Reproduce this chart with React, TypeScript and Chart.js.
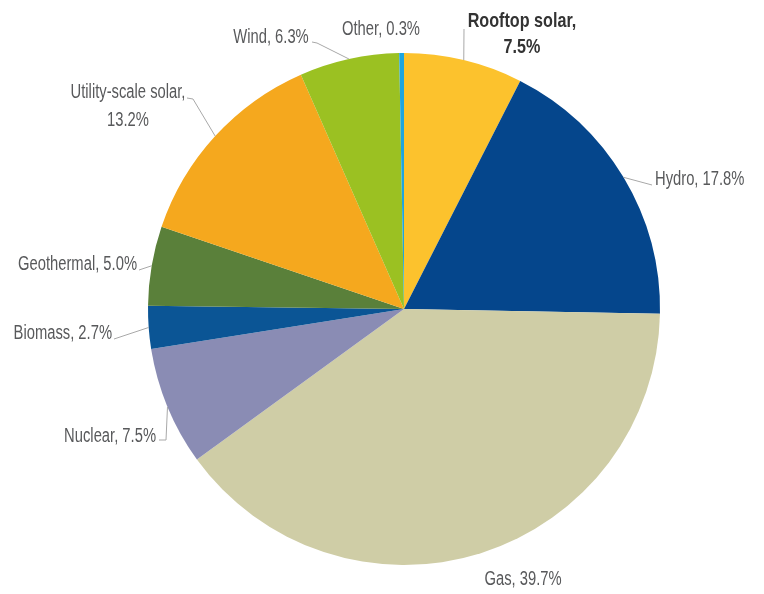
import React, { useEffect, useRef } from "react";
import { Chart, registerables } from "chart.js";

Chart.register(...registerables);

const categories = [
  "Rooftop solar",
  "Hydro",
  "Gas",
  "Nuclear",
  "Biomass",
  "Geothermal",
  "Utility-scale solar",
  "Wind",
  "Other",
];
const shares = [7.5, 17.8, 39.7, 7.5, 2.7, 5.0, 13.2, 6.3, 0.3];
const colors = [
  "#FCC22D",
  "#05468C",
  "#CFCDA6",
  "#8A8CB4",
  "#0B5595",
  "#5A803A",
  "#F5A81E",
  "#9BC122",
  "#1EA5DF",
];

// label layout (text annotations, not marks)
type LabelLayout = {
  lines: string[];
  x: number;
  ys: number[];
  align: CanvasTextAlign;
  bold?: boolean;
  leader: number[][] | null; // points after the arc edge point
};

const labelLayout: LabelLayout[] = [
  { lines: ["Rooftop solar,", "7.5%"], x: 522, ys: [27, 53], align: "center", bold: true, leader: [[464, 29]] },
  { lines: ["Hydro, 17.8%"], x: 655, ys: [185], align: "left", leader: [[652, 185]] },
  { lines: ["Gas, 39.7%"], x: 523, ys: [585], align: "center", leader: null },
  { lines: ["Nuclear, 7.5%"], x: 156, ys: [442], align: "right", leader: [[166, 440], [159, 440]] },
  { lines: ["Biomass, 2.7%"], x: 112, ys: [339], align: "right", leader: [[114, 339]] },
  { lines: ["Geothermal, 5.0%"], x: 137, ys: [270], align: "right", leader: [[139, 270]] },
  { lines: ["Utility-scale solar,", "13.2%"], x: 128, ys: [98, 126], align: "center", leader: [[193, 99], [187, 98]] },
  { lines: ["Wind, 6.3%"], x: 271, ys: [43], align: "center", leader: [[317, 43], [312, 42]] },
  { lines: ["Other, 0.3%"], x: 381, ys: [35], align: "center", leader: null },
];

const FONT = '"Liberation Sans", Arial, sans-serif';

const labelPlugin = {
  id: "pieLabels",
  afterDraw(chart: any) {
    const ctx = chart.ctx as CanvasRenderingContext2D;
    const meta = chart.getDatasetMeta(0);
    meta.data.forEach((arc: any, i: number) => {
      const lay = labelLayout[i];
      if (!lay) return;
      const p = arc.getProps(["x", "y", "startAngle", "endAngle", "outerRadius"], true);
      const mid = (p.startAngle + p.endAngle) / 2;
      const ex = p.x + Math.cos(mid) * p.outerRadius;
      const ey = p.y + Math.sin(mid) * p.outerRadius;
      ctx.save();
      if (lay.leader) {
        ctx.strokeStyle = "#A8A8A8";
        ctx.lineWidth = 1;
        ctx.beginPath();
        ctx.moveTo(ex, ey);
        lay.leader.forEach((pt) => ctx.lineTo(pt[0], pt[1]));
        ctx.stroke();
      }
      ctx.font = lay.bold ? `bold 21px ${FONT}` : `20px ${FONT}`;
      const narrow = lay.bold ? 0.77 : 0.738;
      ctx.fillStyle = lay.bold ? "#333333" : "#58595B";
      ctx.textAlign = lay.align;
      ctx.textBaseline = "alphabetic";
      lay.lines.forEach((line, j) => {
        ctx.save();
        ctx.translate(lay.x, lay.ys[j]);
        ctx.scale(narrow, 1);
        ctx.fillText(line, 0, 0);
        ctx.restore();
      });
      ctx.restore();
    });
  },
};

export default function App() {
  const ref = useRef<HTMLCanvasElement>(null);
  useEffect(() => {
    if (!ref.current) return;
    const chart = new Chart(ref.current, {
      type: "pie",
      data: {
        labels: categories,
        datasets: [
          {
            data: shares,
            backgroundColor: colors,
            borderWidth: 0,
          },
        ],
      },
      options: {
        responsive: false,
        devicePixelRatio: 1,
        animation: false,
        layout: { padding: { left: 148, right: 104, top: 53, bottom: 29 } },
        plugins: {
          legend: { display: false },
          tooltip: { enabled: false },
        },
      },
      plugins: [labelPlugin],
    });
    return () => chart.destroy();
  }, []);
  return (
    <div style={{ position: "absolute", left: 0, top: 0, width: 764, height: 594, background: "#fff" }}>
      <canvas ref={ref} width={764} height={594} style={{ width: 764, height: 594 }} />
    </div>
  );
}
